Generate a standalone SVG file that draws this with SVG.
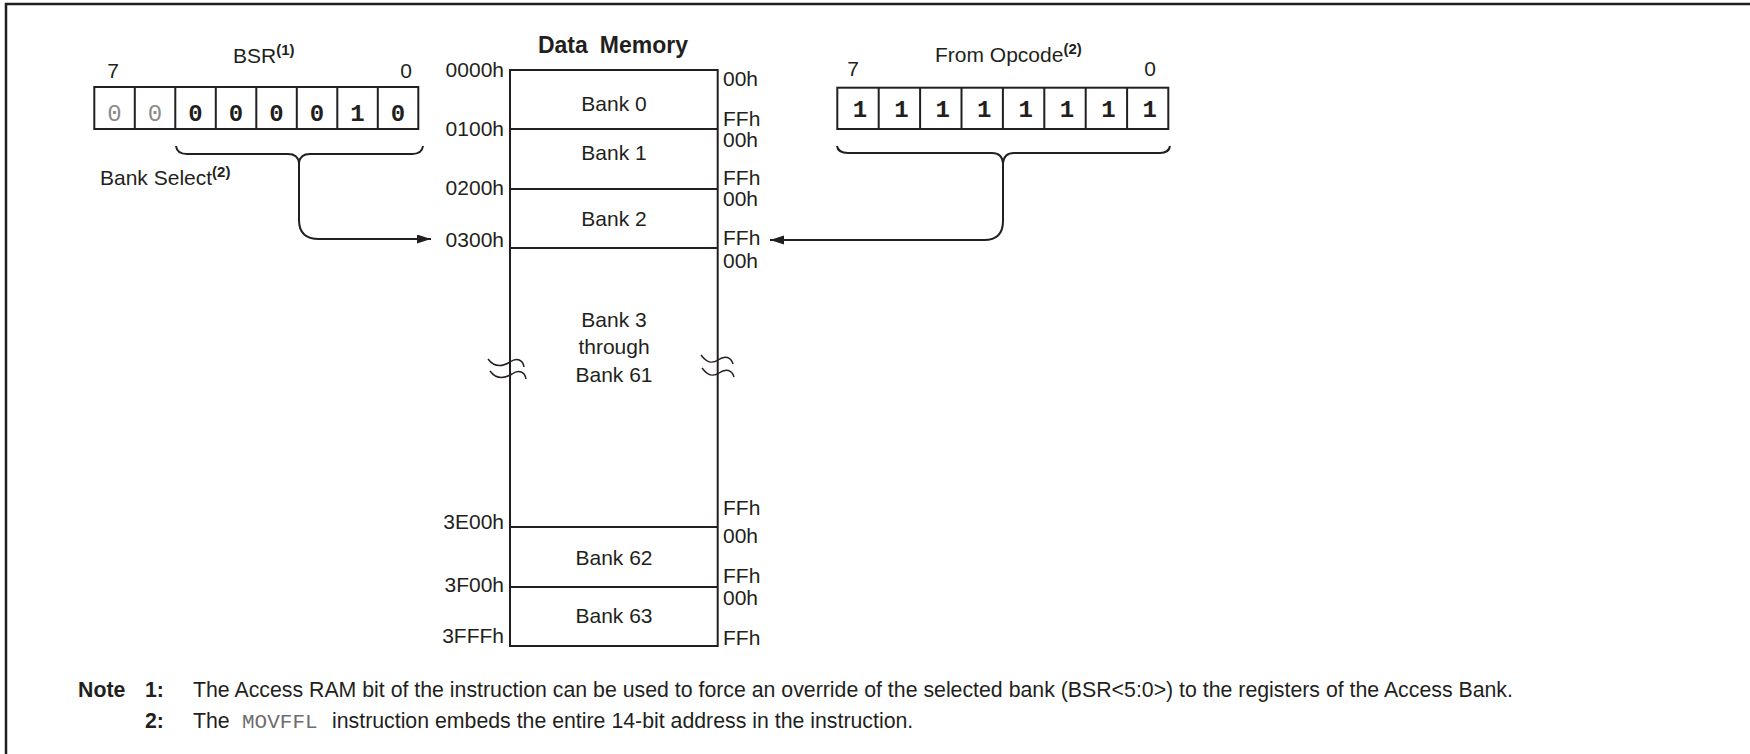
<svg xmlns="http://www.w3.org/2000/svg" width="1750" height="754" viewBox="0 0 1750 754">
<style>
text{font-family:"Liberation Sans",Arial,sans-serif;fill:#231f20}
.lbl{font-size:21px}
.sup{font-size:15px;font-weight:bold}
.title{font-size:23px;font-weight:bold}
.bitb{font-family:"Liberation Mono","Courier New",monospace;font-size:24px;font-weight:bold;text-anchor:middle}
.bitg{font-family:"Liberation Mono","Courier New",monospace;font-size:24px;fill:#8a8a8a;text-anchor:middle}
.c{text-anchor:middle}
.r{text-anchor:end}
.ln{fill:none;stroke:#231f20;stroke-width:2}
.sq{fill:none;stroke:#231f20;stroke-width:1.5}
.frame{fill:none;stroke:#231f20;stroke-width:2.5}
.nb{font-size:21.3px;font-weight:bold}
.nt{font-size:21.3px}
.mono{font-family:"Liberation Mono","Courier New",monospace;font-size:21px;fill:#6d6d6d}
</style>
<defs>
<marker id="ah" markerUnits="userSpaceOnUse" markerWidth="15" markerHeight="10" refX="14" refY="4.5" orient="auto">
<path d="M0,0 L14,4.5 L0,9 Z" fill="#231f20"/>
</marker>
</defs>
<rect width="1750" height="754" fill="#fff"/>
<path class="frame" d="M6,754 V4 H1750"/>

<g id="bsr-register">
<text class="lbl" x="233" y="63">BSR<tspan class="sup" dy="-8">(1)</tspan></text>
<text class="lbl c" x="113" y="78">7</text>
<text class="lbl c" x="406" y="78">0</text>
<rect class="ln" x="94.3" y="87" width="324" height="42"/>
<path class="ln" d="M134.8,87V129M175.3,87V129M215.8,87V129M256.3,87V129M296.8,87V129M337.3,87V129M377.8,87V129"/>
<text class="bitg" x="114.5" y="121">0</text>
<text class="bitg" x="155" y="121">0</text>
<text class="bitb" x="195.5" y="121">0</text>
<text class="bitb" x="236" y="121">0</text>
<text class="bitb" x="276.5" y="121">0</text>
<text class="bitb" x="317" y="121">0</text>
<text class="bitb" x="357.5" y="121">1</text>
<text class="bitb" x="398" y="121">0</text>
<path class="ln" stroke-width="1.6" d="M176,146 Q177,154 187,154 H288 Q298,154 299,163 Q300,154 310,154 H412 Q422,154 423,146"/>
<text class="lbl" x="100" y="185">Bank Select<tspan class="sup" dy="-8">(2)</tspan></text>
</g>

<g id="opcode-register">
<text class="lbl" x="935" y="62">From Opcode<tspan class="sup" dy="-8">(2)</tspan></text>
<text class="lbl c" x="853" y="76">7</text>
<text class="lbl c" x="1150" y="76">0</text>
<rect class="ln" x="837.3" y="87.7" width="331" height="41.3"/>
<path class="ln" d="M878.7,87.7V129M920.1,87.7V129M961.5,87.7V129M1002.9,87.7V129M1044.3,87.7V129M1085.7,87.7V129M1127.1,87.7V129"/>
<text class="bitb" x="860" y="117">1</text>
<text class="bitb" x="901.4" y="117">1</text>
<text class="bitb" x="942.8" y="117">1</text>
<text class="bitb" x="984.2" y="117">1</text>
<text class="bitb" x="1025.6" y="117">1</text>
<text class="bitb" x="1067" y="117">1</text>
<text class="bitb" x="1108.4" y="117">1</text>
<text class="bitb" x="1149.8" y="117">1</text>
<path class="ln" stroke-width="1.6" d="M837,146 Q838,153 848,153 H992 Q1002,153 1003,163 Q1004,153 1014,153 H1160 Q1169,153 1170,146"/>
</g>

<g id="data-memory">
<text class="title c" x="613" y="53">Data<tspan dx="12">Memory</tspan></text>
<rect class="ln" x="510" y="70" width="207.7" height="576"/>
<path class="ln" d="M510,129H717.7M510,189H717.7M510,248H717.7M510,527H717.7M510,587H717.7"/>
<path class="sq" d="M488,359 C494,367 502,367 510,362 C517,357 523,360 524,367"/>
<path class="sq" d="M490,371 C496,379 504,379 512,374 C519,369 525,372 526,379"/>
<path class="sq" d="M701,355 C707,363 712,364 718,360 C725,355 731,357 733,364"/>
<path class="sq" d="M702,368 C708,376 713,377 719,373 C726,368 732,370 734,377"/>
<text class="lbl r" x="504" y="77">0000h</text>
<text class="lbl r" x="504" y="136">0100h</text>
<text class="lbl r" x="504" y="195">0200h</text>
<text class="lbl r" x="504" y="247">0300h</text>
<text class="lbl r" x="504" y="529">3E00h</text>
<text class="lbl r" x="504" y="592">3F00h</text>
<text class="lbl r" x="504" y="643">3FFFh</text>
<text class="lbl" x="723" y="86">00h</text>
<text class="lbl" x="723" y="126">FFh</text>
<text class="lbl" x="723" y="147">00h</text>
<text class="lbl" x="723" y="185">FFh</text>
<text class="lbl" x="723" y="206">00h</text>
<text class="lbl" x="723" y="245">FFh</text>
<text class="lbl" x="723" y="268">00h</text>
<text class="lbl" x="723" y="515">FFh</text>
<text class="lbl" x="723" y="543">00h</text>
<text class="lbl" x="723" y="583">FFh</text>
<text class="lbl" x="723" y="605">00h</text>
<text class="lbl" x="723" y="645">FFh</text>
<text class="lbl c" x="614" y="111">Bank 0</text>
<text class="lbl c" x="614" y="160">Bank 1</text>
<text class="lbl c" x="614" y="226">Bank 2</text>
<text class="lbl c" x="614" y="327">Bank 3</text>
<text class="lbl c" x="614" y="354">through</text>
<text class="lbl c" x="614" y="382">Bank 61</text>
<text class="lbl c" x="614" y="565">Bank 62</text>
<text class="lbl c" x="614" y="623">Bank 63</text>
</g>

<g id="connectors">
<path class="ln" marker-end="url(#ah)" d="M299,163 V220 Q299,239 319,239 H431"/>
<path class="ln" marker-end="url(#ah)" d="M1003,163 V221 Q1003,240 984,240 H770"/>
</g>

<g id="notes">
<text class="nb" x="78" y="697">Note</text>
<text class="nb" x="145" y="697">1:</text>
<text class="nt" x="193" y="697">The Access RAM bit of the instruction can be used to force an override of the selected bank (BSR&lt;5:0&gt;) to the registers of the Access Bank.</text>
<text class="nb" x="145" y="728">2:</text>
<text class="nt" x="193" y="728">The</text>
<text class="mono" x="242" y="728">MOVFFL</text>
<text class="nt" x="332" y="728">instruction embeds the entire 14-bit address in the instruction.</text>
</g>
</svg>
